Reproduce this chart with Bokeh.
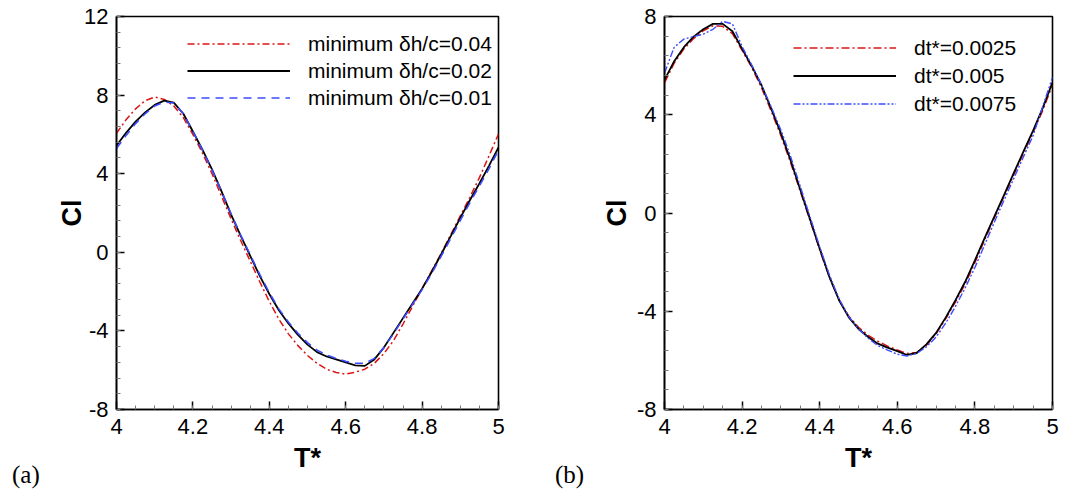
from bokeh.plotting import figure
from bokeh.layouts import row
from bokeh.models import (Range1d, SingleIntervalTicker, NumeralTickFormatter,
                          Legend, LegendItem, Div)
from bokeh.embed import file_html
from bokeh.resources import INLINE

# ---------------- data ----------------
T_GRID = [4.000, 4.025, 4.050, 4.075, 4.100, 4.125, 4.150, 4.175, 4.200, 4.225,
          4.250, 4.275, 4.300, 4.325, 4.350, 4.375, 4.400, 4.425, 4.450, 4.475,
          4.500, 4.525, 4.550, 4.575, 4.600, 4.625, 4.650, 4.675, 4.700, 4.725,
          4.750, 4.775, 4.800, 4.825, 4.850, 4.875, 4.900, 4.925, 4.950, 4.975,
          5.000]

# panel (a): grid resolution study
cl_dh004 = [6.05, 6.75, 7.30, 7.72, 7.90, 7.78, 7.45, 6.85, 6.00, 5.05,
            4.00, 2.85, 1.70, 0.60, -0.45, -1.50, -2.50, -3.40, -4.15, -4.75,
            -5.25, -5.65, -5.95, -6.12, -6.20, -6.10, -5.95, -5.65, -5.15, -4.50,
            -3.65, -2.75, -1.85, -0.95, -0.05, 0.90, 1.85, 2.80, 3.80, 4.90,
            6.02]
cl_dh002 = [5.43, 6.08, 6.65, 7.12, 7.50, 7.72, 7.62, 7.05, 6.15, 5.22,
            4.22, 3.10, 1.92, 0.85, -0.18, -1.20, -2.12, -2.95, -3.62, -4.20,
            -4.70, -5.08, -5.30, -5.45, -5.60, -5.75, -5.78, -5.45, -4.85, -4.10,
            -3.35, -2.60, -1.85, -1.00, -0.10, 0.82, 1.75, 2.65, 3.50, 4.40,
            5.34]
cl_dh001 = [5.28, 5.95, 6.55, 7.05, 7.45, 7.65, 7.60, 7.05, 6.15, 5.20,
            4.20, 3.10, 1.95, 0.88, -0.12, -1.12, -2.05, -2.88, -3.55, -4.12,
            -4.60, -4.98, -5.22, -5.40, -5.55, -5.65, -5.65, -5.40, -4.85, -4.15,
            -3.40, -2.65, -1.90, -1.08, -0.20, 0.70, 1.62, 2.52, 3.38, 4.25,
            5.20]

# panel (b): time step study
cl_dt0025 = [5.30, 6.10, 6.68, 7.10, 7.42, 7.62, 7.60, 7.30, 6.62, 5.92,
             5.10, 4.15, 3.15, 2.05, 0.88, -0.30, -1.50, -2.62, -3.55, -4.20,
             -4.65, -4.98, -5.22, -5.42, -5.58, -5.72, -5.68, -5.38, -4.92, -4.30,
             -3.62, -2.88, -2.02, -1.10, -0.20, 0.68, 1.55, 2.42, 3.28, 4.18,
             5.22]
cl_dt005 = [5.42, 6.18, 6.75, 7.18, 7.48, 7.70, 7.70, 7.40, 6.68, 5.98,
            5.20, 4.25, 3.25, 2.15, 0.95, -0.25, -1.45, -2.60, -3.55, -4.25,
            -4.72, -5.05, -5.32, -5.48, -5.62, -5.78, -5.70, -5.35, -4.88, -4.25,
            -3.55, -2.80, -1.93, -1.02, -0.15, 0.73, 1.62, 2.50, 3.35, 4.28,
            5.32]
cl_dt0075 = [5.70, 6.75, 7.08, 7.18, 7.28, 7.48, 7.80, 7.70, 6.78, 6.02,
             5.22, 4.32, 3.38, 2.30, 1.08, -0.15, -1.38, -2.52, -3.50, -4.22,
             -4.72, -5.10, -5.40, -5.58, -5.75, -5.82, -5.72, -5.45, -5.05, -4.48,
             -3.80, -3.05, -2.22, -1.30, -0.38, 0.52, 1.40, 2.28, 3.15, 4.35,
             5.52]

labels_a = ["minimum \u03b4h/c=0.04", "minimum \u03b4h/c=0.02", "minimum \u03b4h/c=0.01"]
labels_b = ["dt*=0.0025", "dt*=0.005", "dt*=0.0075"]
panel_tags = ["(a)", "(b)"]

RED = "#dd1414"
BLUE = "#3c4cff"
FONT = "Liberation Sans"


def make_fig(ylo, yhi, frame_left, frame_w, right_border, total_w, ylab_standoff):
    p = figure(width=total_w, height=494, frame_width=frame_w, frame_height=393,
               x_range=Range1d(4, 5), y_range=Range1d(ylo, yhi),
               output_backend="svg", toolbar_location=None,
               min_border_left=frame_left, min_border_right=right_border,
               min_border_top=16, min_border_bottom=85)
    p.grid.visible = False
    p.outline_line_color = "black"
    p.outline_line_width = 1.6
    p.outline_line_alpha = 1.0
    p.xaxis.ticker = SingleIntervalTicker(interval=0.2, num_minor_ticks=4)
    p.xaxis.formatter = NumeralTickFormatter(format="0.[0]")
    p.yaxis.ticker = SingleIntervalTicker(interval=4, num_minor_ticks=5)
    p.yaxis.formatter = NumeralTickFormatter(format="0")
    for ax in (p.xaxis[0], p.yaxis[0]):
        ax.axis_line_color = "black"
        ax.axis_line_width = 1.6
        ax.major_tick_in = 8
        ax.major_tick_out = 0
        ax.minor_tick_in = 4
        ax.minor_tick_out = 0
        ax.major_tick_line_width = 1.5
        ax.major_tick_line_color = "black"
        ax.minor_tick_line_color = "#777777"
        ax.minor_tick_line_width = 1
        ax.major_label_text_font = FONT
        ax.major_label_text_font_size = "22px"
        ax.major_label_text_color = "black"
        ax.axis_label_text_font = FONT
        ax.axis_label_text_font_size = "27px"
        ax.axis_label_text_font_style = "bold"
        ax.axis_label_text_color = "black"
    p.xaxis.axis_label = "T*"
    p.yaxis.axis_label = "Cl"
    p.xaxis.major_label_standoff = 9
    p.xaxis.axis_label_standoff = 6
    p.yaxis.major_label_standoff = 8
    p.yaxis.axis_label_standoff = ylab_standoff
    return p


def make_tag(text, width, left):
    html = ('<div style="position:relative;width:%dpx;height:494px;">'
            '<span style="position:absolute;left:%dpx;top:462px;'
            "font-family:'Liberation Serif';font-size:25px;line-height:1;"
            'color:black;white-space:nowrap;">%s</span></div>') % (width, left, text)
    return Div(text=html, width=width, height=494, margin=0)


def add_legend(p, items, x, y, spacing):
    leg = Legend(items=items, location=(x, y), padding=0, margin=0,
                 spacing=spacing, glyph_width=103, glyph_height=27,
                 label_height=27, label_standoff=18,
                 label_text_font=FONT, label_text_font_size="21px",
                 label_text_color="black",
                 border_line_alpha=0, background_fill_alpha=0)
    p.add_layout(leg)


# ---------------- panel (a) ----------------
pa = make_fig(-8, 12, 71, 382, 42, 495, -6)
r1 = pa.line(T_GRID, cl_dh004, line_color=RED, line_width=1.5, line_dash="7 3 2 3")
r2 = pa.line(T_GRID, cl_dh002, line_color="black", line_width=1.8)
r3 = pa.line(T_GRID, cl_dh001, line_color=BLUE, line_width=1.6, line_dash="8 6")
add_legend(pa, [LegendItem(label=labels_a[0], renderers=[r1]),
                LegendItem(label=labels_a[1], renderers=[r2]),
                LegendItem(label=labels_a[2], renderers=[r3])], 71, 298, 0)
tag_a = make_tag(panel_tags[0], 45, 12)

# ---------------- panel (b) ----------------
pb = make_fig(-8, 8, 74, 388, 20, 482, 2)
s1 = pb.line(T_GRID, cl_dt0025, line_color=RED, line_width=1.5, line_dash="8 3 2 3")
s2 = pb.line(T_GRID, cl_dt005, line_color="black", line_width=1.8)
s3 = pb.line(T_GRID, cl_dt0075, line_color=BLUE, line_width=1.4, line_dash="7 2 2 2 2 2")
add_legend(pb, [LegendItem(label=labels_b[0], renderers=[s1]),
                LegendItem(label=labels_b[1], renderers=[s2]),
                LegendItem(label=labels_b[2], renderers=[s3])], 129, 292, 1)
tag_b = make_tag(panel_tags[1], 50, 15)

layout = row(tag_a, pa, tag_b, pb, spacing=0)
open("out.html", "w").write(file_html(layout, INLINE))
